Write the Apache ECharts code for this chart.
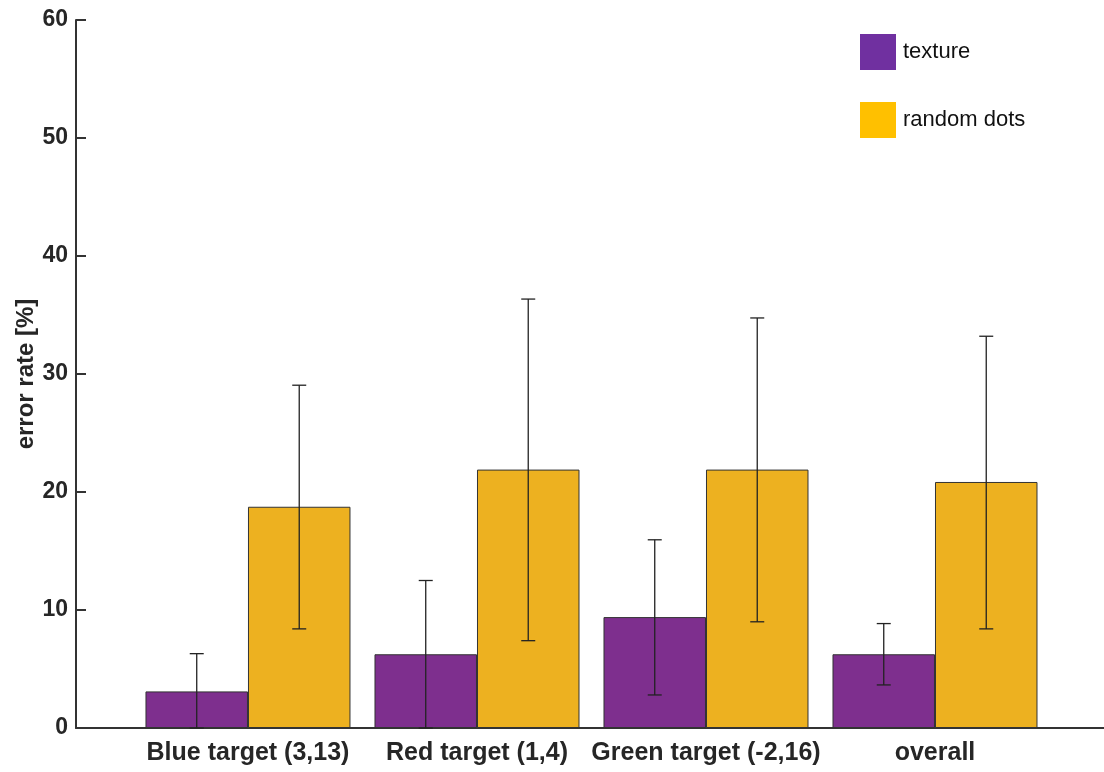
<!DOCTYPE html>
<html>
<head>
<meta charset="utf-8">
<script src="https://cdn.jsdelivr.net/npm/echarts@6/dist/echarts.min.js"></script>
<style>html,body{margin:0;padding:0;background:#fff}#c{width:1104px;height:772px}</style>
</head>
<body>
<div id="c"></div>
<script>
var categories = ['Blue target (3,13)', 'Red target (1,4)', 'Green target (-2,16)', 'overall'];
var categoryPos = [1, 2, 3, 4];
var texture = [3.1, 6.25, 9.4, 6.25];
var randomDots = [18.75, 21.9, 21.9, 20.85];
var textureLow = [0, 0, 2.8, 3.65];
var textureHigh = [6.3, 12.5, 15.95, 8.85];
var randomLow = [8.4, 7.4, 9.0, 8.4];
var randomHigh = [29.05, 36.35, 34.75, 33.2];
var yTicks = [0, 10, 20, 30, 40, 50, 60];

var BAR_W = 102.5;
var FONT = '"Liberation Sans", Arial, sans-serif';

function pairs(vals) { return categoryPos.map(function (x, i) { return [x, vals[i]]; }); }
function errData(lo, hi) { return categoryPos.map(function (x, i) { return [x, lo[i], hi[i]]; }); }

function errRender(offset) {
  return function (params, api) {
    var lo = api.coord([api.value(0), api.value(1)]);
    var hi = api.coord([api.value(0), api.value(2)]);
    var x = lo[0] + offset;
    var cap = 7;
    var st = { stroke: '#222', lineWidth: 1.3 };
    return { type: 'group', children: [
      { type: 'line', shape: { x1: x, y1: lo[1], x2: x, y2: hi[1] }, style: st },
      { type: 'line', shape: { x1: x - cap, y1: hi[1], x2: x + cap, y2: hi[1] }, style: st },
      { type: 'line', shape: { x1: x - cap, y1: lo[1], x2: x + cap, y2: lo[1] }, style: st }
    ]};
  };
}

var chart = echarts.init(document.getElementById('c'), null, { renderer: 'canvas' });
chart.setOption({
  animation: false,
  backgroundColor: '#ffffff',
  textStyle: { fontFamily: FONT },
  grid: { left: 76, right: 0, top: 20, bottom: 44, containLabel: false },
  legend: {
    orient: 'vertical', left: 860, top: 34, padding: 0, itemWidth: 36, itemHeight: 36, itemGap: 32,
    icon: 'rect',
    textStyle: { fontSize: 22, color: '#111', fontFamily: FONT, padding: [0, 0, 0, 2] },
    data: [
      { name: 'texture', itemStyle: { color: '#7030A0', borderWidth: 0 } },
      { name: 'random dots', itemStyle: { color: '#FFC000', borderWidth: 0 } }
    ]
  },
  xAxis: {
    type: 'value', min: 0.249, max: 4.738,
    splitLine: { show: false },
    axisLine: { show: true, lineStyle: { color: '#333', width: 2 } },
    axisTick: { show: false },
    axisLabel: {
      customValues: categoryPos,
      formatter: function (v) { return categories[Math.round(v) - 1] || ''; },
      fontSize: 25, fontWeight: 'bold', color: '#262626', margin: 13, fontFamily: FONT
    }
  },
  yAxis: {
    type: 'value', min: 0, max: 60, interval: 10,
    name: 'error rate [%]', nameLocation: 'middle', nameGap: 38, nameRotate: 90,
    nameMoveOverlap: false,
    nameTextStyle: { fontSize: 24, fontWeight: 'bold', color: '#262626', fontFamily: FONT },
    splitLine: { show: false },
    axisLine: { show: true, lineStyle: { color: '#333', width: 2 } },
    axisTick: { show: true, inside: true, length: 10, lineStyle: { color: '#333', width: 2 } },
    axisLabel: { fontSize: 23, fontWeight: 'bold', color: '#262626', margin: 8, fontFamily: FONT,
      formatter: function (v) { return yTicks.indexOf(v) >= 0 ? String(v) : ''; } }
  },
  series: [
    { name: 'texture', type: 'bar', data: pairs(texture), barWidth: BAR_W, barGap: '0%',
      itemStyle: { color: '#7E2F8E', borderColor: '#333', borderWidth: 1 } },
    { name: 'random dots', type: 'bar', data: pairs(randomDots), barWidth: BAR_W, barGap: '0%',
      itemStyle: { color: '#EDB120', borderColor: '#333', borderWidth: 1 } },
    { name: 'texture err', type: 'custom', data: errData(textureLow, textureHigh),
      renderItem: errRender(-BAR_W / 2), encode: { x: 0, y: [1, 2] }, z: 5 },
    { name: 'random err', type: 'custom', data: errData(randomLow, randomHigh),
      renderItem: errRender(BAR_W / 2), encode: { x: 0, y: [1, 2] }, z: 5 }
  ]
});
</script>
</body>
</html>
